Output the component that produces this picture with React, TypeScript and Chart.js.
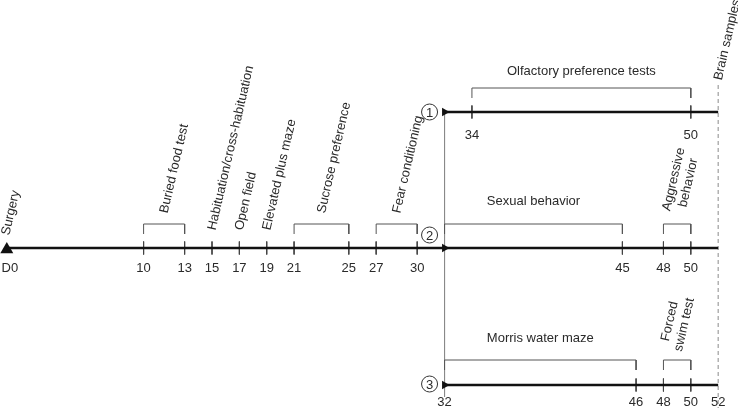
import React, { useEffect, useRef } from 'react';
import { Chart, registerables } from 'chart.js';

Chart.register(...registerables);

// ---------------- Data ----------------
const surgeryDay = 0;
const surgeryLabel = 'Surgery';
const splitDay = 32;
const endDay = 52;
const endLabel = 'Brain samples';
const trackIds = ['1', '2', '3'];

// Phase before split (on track 2 / main timeline)
const mainTestNames = [
  'Buried food test',
  'Habituation/cross-habituation',
  'Open field',
  'Elevated plus maze',
  'Sucrose preference',
  'Fear conditioning',
];
const mainTestStart = [10, 15, 17, 19, 21, 27];
const mainTestEnd = [13, 15, 17, 19, 25, 30];

// Track 1
const track1Names = ['Olfactory preference tests'];
const track1Start = [34];
const track1End = [50];

// Track 2 (after split)
const track2Names = ['Sexual behavior', 'Aggressive behavior'];
const track2Start = [32, 48];
const track2End = [45, 50];

// Track 3
const track3Names = ['Morris water maze', 'Forced swim test'];
const track3Start = [32, 48];
const track3End = [46, 50];

// Tick labels
const track1TickDays = [34, 50];
const track1TickLabels = ['34', '50'];
const track2TickDays = [0, 10, 13, 15, 17, 19, 21, 25, 27, 30, 45, 48, 50];
const track2TickLabels = ['D0', '10', '13', '15', '17', '19', '21', '25', '27', '30', '45', '48', '50'];
const track3TickDays = [32, 46, 48, 50, 52];
const track3TickLabels = ['32', '46', '48', '50', '52'];

// ---------------- Layout (pixel-like y units, y axis reversed 0..408) ----------------
const W = 738;
const H = 408;
const X_MIN = -0.497;
const X_MAX = 53.45;
const TRACK_Y = [112, 248, 385];
const BRACKET_RISE = [24, 24, 25];
const LEG = 10;
const TICK_HALF = 6.5;
const TICK_LABEL_OFF = [23, 20, 17];
const HLABEL_OFF = [17, 23, 22];
const MULTI_Y = [0, 181, 323];
const ANGLE = (-77 * Math.PI) / 180;
const LH = 15;
const FONT = '13px "Liberation Sans", Arial, Helvetica, sans-serif';
const TEXT = '#2a2a2a';

type Seg = { x: number; y: number | null };

function buildTicks(): Seg[] {
  const pts: Seg[] = [];
  const tracks = [track1TickDays, track2TickDays, track3TickDays];
  tracks.forEach((days, t) => {
    days.forEach((d) => {
      if (d === surgeryDay || d === splitDay || d === endDay) return;
      pts.push({ x: d, y: TRACK_Y[t] - TICK_HALF });
      pts.push({ x: d, y: TRACK_Y[t] + TICK_HALF });
      pts.push({ x: d, y: null });
    });
  });
  return pts;
}

function buildBrackets(): Seg[] {
  const pts: Seg[] = [];
  const groups = [
    [track1Start, track1End],
    [mainTestStart.concat(track2Start), mainTestEnd.concat(track2End)],
    [track3Start, track3End],
  ];
  groups.forEach(([s, e], t) => {
    const top = TRACK_Y[t] - BRACKET_RISE[t];
    s.forEach((sd, i) => {
      const ed = e[i];
      if (ed === sd) return;
      pts.push({ x: sd, y: top + LEG });
      pts.push({ x: sd, y: top });
      pts.push({ x: ed, y: top });
      pts.push({ x: ed, y: top + LEG });
      pts.push({ x: ed, y: null });
    });
  });
  return pts;
}

function splitTwo(s: string): string[] {
  const i = s.indexOf(' ');
  return i < 0 ? [s] : [s.slice(0, i), s.slice(i + 1)];
}

const textPlugin = {
  id: 'timelineText',
  afterDatasetsDraw(chart: any) {
    const ctx = chart.ctx as CanvasRenderingContext2D;
    const xs = chart.scales.x;
    const ys = chart.scales.y;
    const px = (d: number) => xs.getPixelForValue(d);
    const py = (v: number) => ys.getPixelForValue(v);
    ctx.save();
    ctx.font = FONT;
    ctx.fillStyle = TEXT;

    const rot = (x: number, y: number, lines: string[], align: CanvasTextAlign) => {
      ctx.save();
      ctx.translate(x, y);
      ctx.rotate(ANGLE);
      ctx.textAlign = align;
      ctx.textBaseline = 'middle';
      const n = lines.length;
      lines.forEach((l, i) => ctx.fillText(l, 0, (i - (n - 1) / 2) * LH));
      ctx.restore();
    };

    // Tick labels
    const tl = [
      [track1TickDays, track1TickLabels],
      [track2TickDays, track2TickLabels],
      [track3TickDays, track3TickLabels],
    ] as [number[], string[]][];
    ctx.textAlign = 'center';
    ctx.textBaseline = 'middle';
    tl.forEach(([days, labels], t) => {
      days.forEach((d, i) => {
        const dx = labels[i] === 'D0' ? 3 : 0;
        ctx.fillText(labels[i], px(d) + dx, py(TRACK_Y[t] + TICK_LABEL_OFF[t]));
      });
    });

    // Surgery label
    rot(px(surgeryDay) - 1, py(TRACK_Y[1] - 13), [surgeryLabel], 'left');

    // Pre-split tests (rotated)
    mainTestNames.forEach((name, i) => {
      const s = mainTestStart[i];
      const e = mainTestEnd[i];
      const mid = (s + e) / 2;
      const y = s === e ? TRACK_Y[1] - 18 : TRACK_Y[1] - BRACKET_RISE[1] - 11;
      rot(px(mid), py(y), [name], 'left');
    });

    // Post-split tests
    const post = [
      [track1Names, track1Start, track1End],
      [track2Names, track2Start, track2End],
      [track3Names, track3Start, track3End],
    ] as [string[], number[], number[]][];
    post.forEach(([names, s, e], t) => {
      names.forEach((name, i) => {
        const mid = (s[i] + e[i]) / 2;
        if (e[i] - s[i] >= 10) {
          ctx.textAlign = 'center';
          ctx.textBaseline = 'middle';
          ctx.fillText(name, px(mid), py(TRACK_Y[t] - BRACKET_RISE[t] - HLABEL_OFF[t]));
        } else {
          const dx = t === 1 ? 4 : 0;
          rot(px(mid) + dx, py(MULTI_Y[t]), splitTwo(name), 'center');
        }
      });
    });

    // Brain samples
    rot(px(endDay), py(80), [endLabel], 'left');

    // Circled track numbers
    const circY = [TRACK_Y[0], TRACK_Y[1] - 13, TRACK_Y[2] - 1];
    trackIds.forEach((id, t) => {
      const cx = px(splitDay) - 15;
      const cy = py(circY[t]);
      ctx.beginPath();
      ctx.arc(cx, cy, 8, 0, Math.PI * 2);
      ctx.fillStyle = '#ffffff';
      ctx.fill();
      ctx.lineWidth = 1;
      ctx.strokeStyle = '#333';
      ctx.stroke();
      ctx.fillStyle = TEXT;
      ctx.textAlign = 'center';
      ctx.textBaseline = 'middle';
      ctx.fillText(id, cx, cy + 1);
    });

    ctx.restore();
  },
};

export default function App() {
  const ref = useRef<HTMLCanvasElement | null>(null);

  useEffect(() => {
    if (!ref.current) return;
    const lineBase = {
      type: 'line' as const,
      pointRadius: 0,
      pointHoverRadius: 0,
      fill: false,
      tension: 0,
      clip: false as any,
      spanGaps: false,
    };
    const chart = new Chart(ref.current, {
      type: 'line',
      data: {
        datasets: [
          {
            ...lineBase,
            label: 'arrows',
            data: TRACK_Y.map((y) => ({ x: splitDay, y })),
            showLine: false,
            pointStyle: 'triangle',
            rotation: 90,
            pointRadius: 5,
            pointBackgroundColor: '#111',
            pointBorderColor: '#111',
            pointBorderWidth: 0,
            order: 0,
          },
          {
            ...lineBase,
            label: 'surgery',
            data: [{ x: surgeryDay, y: TRACK_Y[1] + 1.5 }],
            showLine: false,
            pointStyle: 'triangle',
            pointRadius: 7.5,
            pointBackgroundColor: '#111',
            pointBorderColor: '#111',
            pointBorderWidth: 0,
            order: 0,
          },
          {
            ...lineBase,
            label: 'track2',
            data: [
              { x: surgeryDay, y: TRACK_Y[1] },
              { x: endDay, y: TRACK_Y[1] },
            ],
            borderColor: '#111',
            borderWidth: 2.6,
            order: 1,
          },
          {
            ...lineBase,
            label: 'track1',
            data: [
              { x: splitDay, y: TRACK_Y[0] },
              { x: endDay, y: TRACK_Y[0] },
            ],
            borderColor: '#111',
            borderWidth: 2.6,
            order: 1,
          },
          {
            ...lineBase,
            label: 'track3',
            data: [
              { x: splitDay, y: TRACK_Y[2] },
              { x: endDay, y: TRACK_Y[2] },
            ],
            borderColor: '#111',
            borderWidth: 2.6,
            order: 1,
          },
          {
            ...lineBase,
            label: 'ticks',
            data: buildTicks(),
            borderColor: '#444',
            borderWidth: 1,
            order: 2,
          },
          {
            ...lineBase,
            label: 'brackets',
            data: buildBrackets(),
            borderColor: '#555',
            borderWidth: 1,
            order: 2,
          },
          {
            ...lineBase,
            label: 'connector',
            data: [
              { x: splitDay, y: TRACK_Y[0] },
              { x: splitDay, y: TRACK_Y[2] + 12 },
            ],
            borderColor: '#8a8a8a',
            borderWidth: 1,
            order: 3,
          },
          {
            ...lineBase,
            label: 'end',
            data: [
              { x: endDay, y: 85 },
              { x: endDay, y: H },
            ],
            borderColor: '#8a8a8a',
            borderWidth: 1,
            borderDash: [4, 3],
            order: 3,
          },
        ] as any,
      },
      options: {
        responsive: false,
        animation: false,
        events: [],
        layout: { padding: 0, autoPadding: false },
        plugins: { legend: { display: false }, tooltip: { enabled: false } },
        scales: {
          x: { type: 'linear', min: X_MIN, max: X_MAX, display: false },
          y: { type: 'linear', min: 0, max: H, reverse: true, display: false },
        },
      },
      plugins: [textPlugin],
    });
    return () => chart.destroy();
  }, []);

  return (
    <div style={{ position: 'fixed', left: 0, top: 0, width: W, height: H, background: '#fff' }}>
      <canvas ref={ref} width={W} height={H} style={{ display: 'block', width: W, height: H }} />
    </div>
  );
}
